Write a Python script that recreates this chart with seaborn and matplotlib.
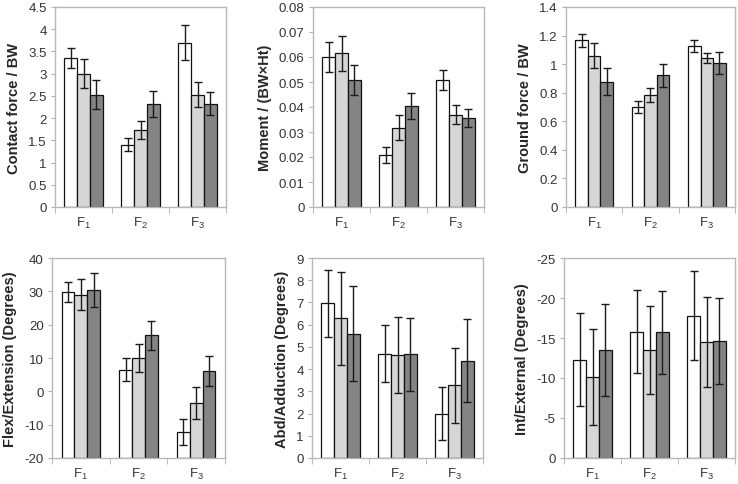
import pandas as pd
import seaborn as sns
import matplotlib.pyplot as plt
from matplotlib.ticker import MultipleLocator, FuncFormatter

groups = ['F1', 'F2', 'F3']
series = ['s1', 's2', 's3']
colors = ['#ffffff', '#d6d6d6', '#848484']

# each list: one series (white, light gray, dark gray) across F1, F2, F3
contact_mean = [[3.35, 1.40, 3.70], [3.00, 1.73, 2.53], [2.53, 2.32, 2.32]]
contact_err = [[0.22, 0.15, 0.40], [0.32, 0.21, 0.28], [0.32, 0.30, 0.26]]

moment_mean = [[0.060, 0.021, 0.051], [0.0615, 0.0317, 0.037], [0.051, 0.0405, 0.0355]]
moment_err = [[0.006, 0.0032, 0.004], [0.007, 0.005, 0.0037], [0.006, 0.0052, 0.0036]]

ground_mean = [[1.168, 0.699, 1.124], [1.058, 0.783, 1.042], [0.876, 0.921, 1.007]]
ground_err = [[0.046, 0.040, 0.042], [0.088, 0.048, 0.036], [0.095, 0.080, 0.077]]

flex_mean = [[29.9, 6.5, -12.2], [29.0, 10.0, -3.4], [30.4, 16.8, 6.1]]
flex_err = [[3.0, 3.5, 3.9], [4.7, 4.1, 4.8], [5.0, 4.3, 4.4]]

abd_mean = [[6.96, 4.70, 2.00], [6.29, 4.65, 3.27], [5.60, 4.67, 4.38]]
abd_err = [[1.52, 1.28, 1.21], [2.10, 1.71, 1.70], [2.15, 1.65, 1.86]]

int_mean = [[-12.3, -15.8, -17.8], [-10.1, -13.5, -14.5], [-13.5, -15.7, -14.6]]
int_err = [[5.85, 5.2, 5.6], [6.0, 5.5, 5.6], [5.8, 5.2, 5.4]]

sns.set_style('white')
plt.rcParams['font.family'] = ['Liberation Sans', 'DejaVu Sans']


def draw_panel(ax, means, errs, ylim, step, label):
    rows = []
    for s, vals in zip(series, means):
        for g, v in zip(groups, vals):
            rows.append({'group': g, 'series': s, 'value': v})
    df = pd.DataFrame(rows)
    sns.barplot(data=df, x='group', y='value', hue='series', palette=colors,
                width=0.67, edgecolor='#111111', linewidth=0.9, errorbar=None,
                legend=False, saturation=1, ax=ax)
    # bars rise from the bottom of the axis (category axis crosses at the minimum)
    base = ylim[0]
    bar_sets = list(ax.containers)
    for i, cont in enumerate(bar_sets):
        for j, bar in enumerate(cont):
            bar.set_y(base)
            bar.set_height(means[i][j] - base)
            x = bar.get_x() + bar.get_width() / 2
            ax.errorbar(x, means[i][j], yerr=errs[i][j], color='#1a1a1a',
                        capsize=3, lw=1.0, capthick=1.0)
    ax.set_ylim(*ylim)
    ax.yaxis.set_major_locator(MultipleLocator(step))
    ax.yaxis.set_major_formatter(FuncFormatter(lambda v, p: '%g' % round(v, 4)))
    ax.set_xlim(-0.5, 2.5)
    ax.set_xticks([0, 1, 2])
    ax.set_xticklabels(['$\\mathregular{F_1}$', '$\\mathregular{F_2}$', '$\\mathregular{F_3}$'])
    ax.set_xticks([-0.5, 0.5, 1.5, 2.5], minor=True)
    ax.tick_params(axis='x', which='major', length=0, pad=6, labelsize=9.5, labelcolor='#333333')
    ax.tick_params(axis='x', which='minor', length=4, color='#b0b0b0', direction='out', bottom=True)
    ax.tick_params(axis='y', length=3, color='#b0b0b0', direction='out', left=True,
                   labelsize=9.5, labelcolor='#333333', pad=3)
    for sp in ax.spines.values():
        sp.set_color('#b8b8b8')
        sp.set_linewidth(1.0)
    ax.set_xlabel('')
    ax.set_ylabel(label, fontsize=10.5, fontweight='bold', labelpad=5)


fig = plt.figure(figsize=(7.38, 4.85), dpi=100)
W, H = 738, 485
boxes = [
    (55, 226, 8, 208), (313, 484, 8, 208), (566, 735, 8, 208),
    (52, 225, 259, 459), (312, 483, 259, 459), (564, 735, 259, 459),
]
axes = [fig.add_axes([l / W, (H - b) / H, (r - l) / W, (b - t) / H]) for l, r, t, b in boxes]

draw_panel(axes[0], contact_mean, contact_err, (0, 4.5), 0.5, 'Contact force / BW')
draw_panel(axes[1], moment_mean, moment_err, (0, 0.08), 0.01, 'Moment / (BW×Ht)')
draw_panel(axes[2], ground_mean, ground_err, (0, 1.4), 0.2, 'Ground force / BW')
draw_panel(axes[3], flex_mean, flex_err, (-20, 40), 10, 'Flex/Extension (Degrees)')
draw_panel(axes[4], abd_mean, abd_err, (0, 9), 1, 'Abd/Adduction (Degrees)')
draw_panel(axes[5], int_mean, int_err, (0, -25), 5, 'Int/External (Degrees)')

fig.savefig('out.png', dpi=100)
